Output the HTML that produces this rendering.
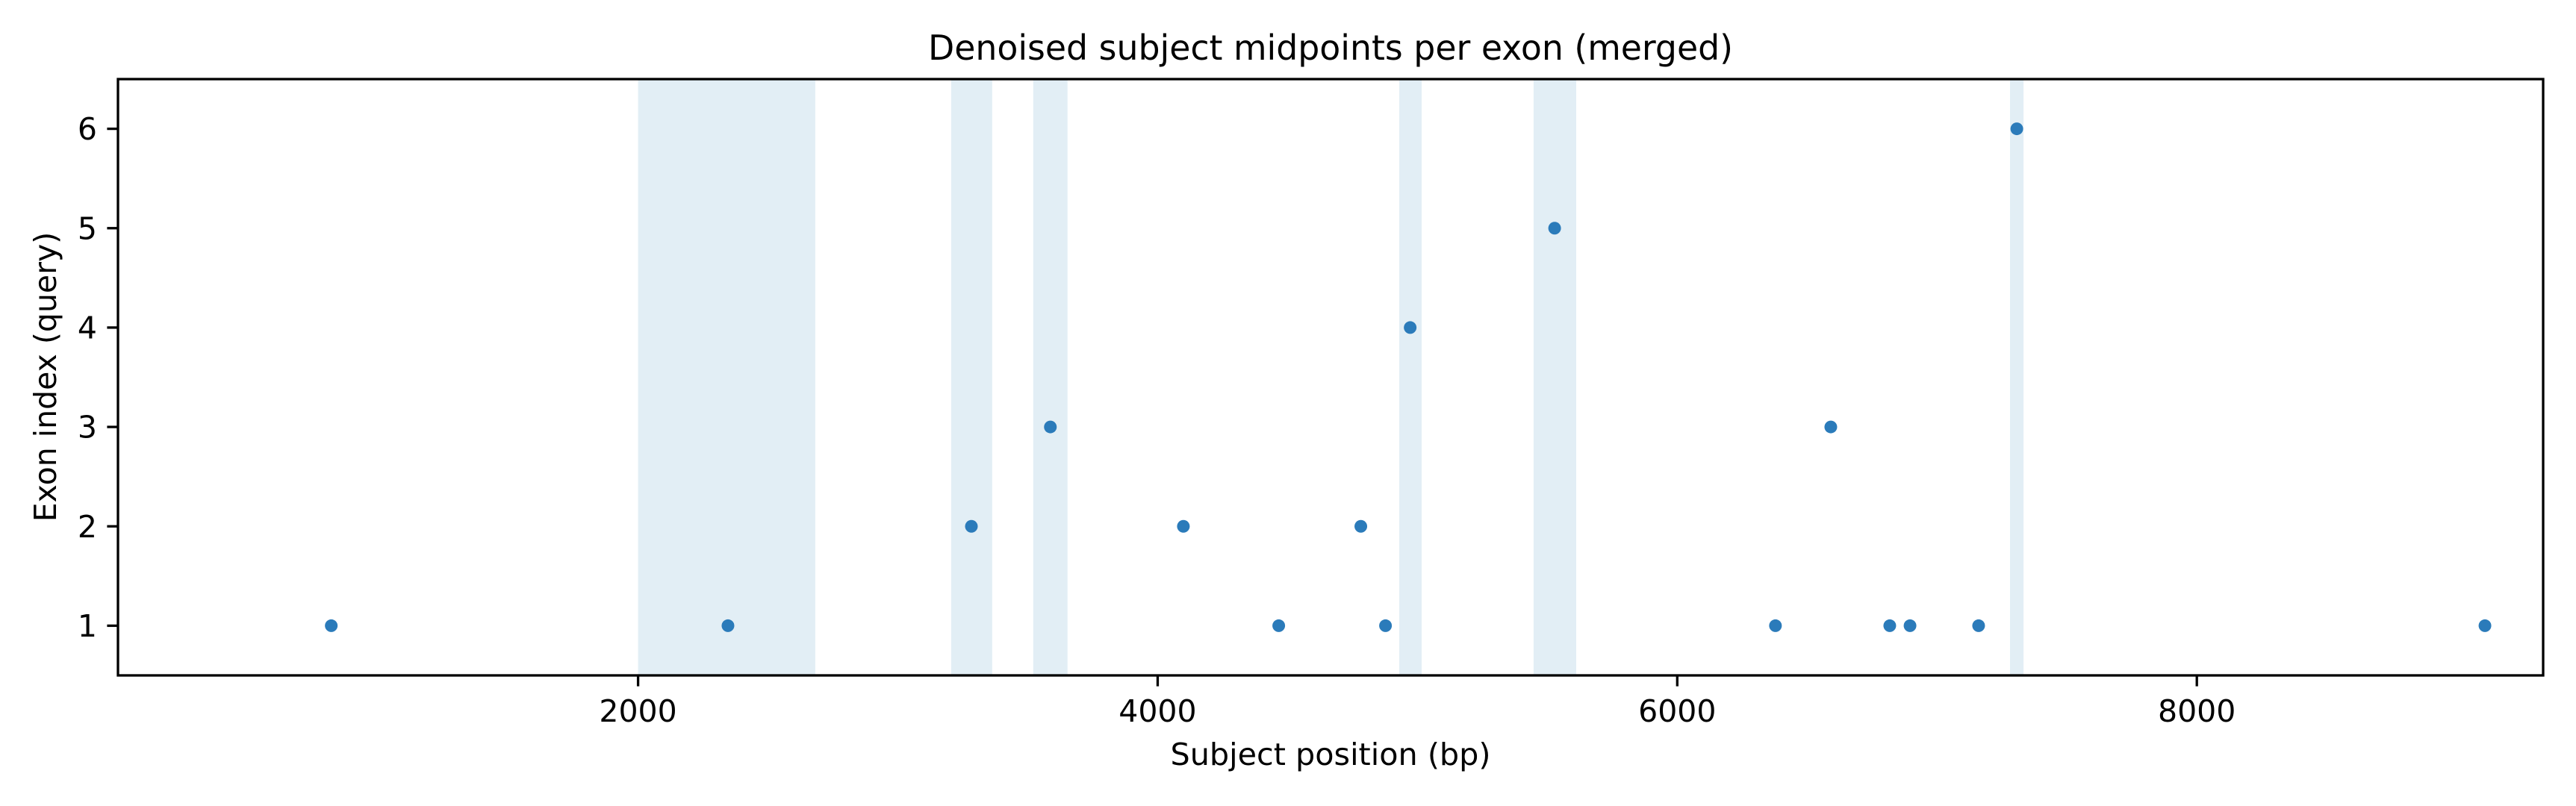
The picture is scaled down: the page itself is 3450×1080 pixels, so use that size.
<!DOCTYPE html>
<html><head><meta charset="utf-8"><style>
html,body{margin:0;padding:0;background:#fff;}
svg{display:block;font-family:"DejaVu Sans","Liberation Sans",sans-serif;}
</style></head><body>
<svg id="chart" width="3450" height="1080" viewBox="0 0 3450 1080" xmlns="http://www.w3.org/2000/svg">
<rect x="0" y="0" width="3450" height="1080" fill="#fff"/>
<g id="spans"></g>
<g id="points"></g>
<rect x="158" y="106" width="3248" height="799" fill="none" stroke="#000" stroke-width="3.3"/>
<g id="xticks"></g>
<g id="yticks"></g>
<text x="1782" y="80" text-anchor="middle" font-size="46" textLength="1078" lengthAdjust="spacingAndGlyphs">Denoised subject midpoints per exon (merged)</text>
<text x="1782" y="1025" text-anchor="middle" font-size="41" textLength="429" lengthAdjust="spacingAndGlyphs">Subject position (bp)</text>
<text transform="translate(75,505) rotate(-90)" text-anchor="middle" font-size="41">Exon index (query)</text>
</svg>
<script>
const spanStarts = [2000, 3205, 3521, 4930, 5447, 7281];
const spanEnds = [2682, 3363, 3653, 5016, 5611, 7333];
const pointX = [819, 2346, 3283, 3587, 4099, 4466, 4782, 4877, 4972, 5528, 6378, 6591, 6818, 6896, 7160, 7307, 9109];
const pointY = [1, 1, 2, 3, 2, 1, 2, 1, 4, 5, 1, 3, 1, 1, 1, 6, 1];
const xTickValues = [2000, 4000, 6000, 8000];
const yTickValues = [1, 2, 3, 4, 5, 6];

const NS = "http://www.w3.org/2000/svg";
const L = 158, R = 3406, T = 106, B = 905;
const xMin = -2, xMax = 9333, yMin = 0.5, yMax = 6.5;
function sx(v){ return L + (v - xMin) / (xMax - xMin) * (R - L); }
function sy(v){ return B - (v - yMin) / (yMax - yMin) * (B - T); }
function mk(tag, attrs, parent){
  const e = document.createElementNS(NS, tag);
  for (const k in attrs) e.setAttribute(k, attrs[k]);
  parent.appendChild(e);
  return e;
}
const gs = document.getElementById('spans');
spanStarts.forEach((s, i) => {
  const r = mk('rect', {x: sx(s), y: T, width: sx(spanEnds[i]) - sx(s), height: B - T, fill: '#e2eef5'}, gs);
  
  
});
const gp = document.getElementById('points');
pointX.forEach((x, i) => {
  const c = mk('circle', {cx: sx(x), cy: sy(pointY[i]), r: 8.5, fill: '#2b7bba'}, gp);
  
  
});
const gx = document.getElementById('xticks');
xTickValues.forEach(v => {
  const l = mk('line', {x1: sx(v), x2: sx(v), y1: B, y2: B + 14.6, stroke: '#000', 'stroke-width': 3.3}, gx);
  
  
  const t = mk('text', {x: sx(v), y: 967, 'text-anchor': 'middle', 'font-size': 41}, gx);
  t.textContent = v;
  
  
});
const gy = document.getElementById('yticks');
yTickValues.forEach(v => {
  const l = mk('line', {x1: L - 14.6, x2: L, y1: sy(v), y2: sy(v), stroke: '#000', 'stroke-width': 3.3}, gy);
  
  
  const t = mk('text', {x: 130, y: sy(v) + 14.5, 'text-anchor': 'end', 'font-size': 41}, gy);
  t.textContent = v;
  
  
});
</script>
</body></html>
